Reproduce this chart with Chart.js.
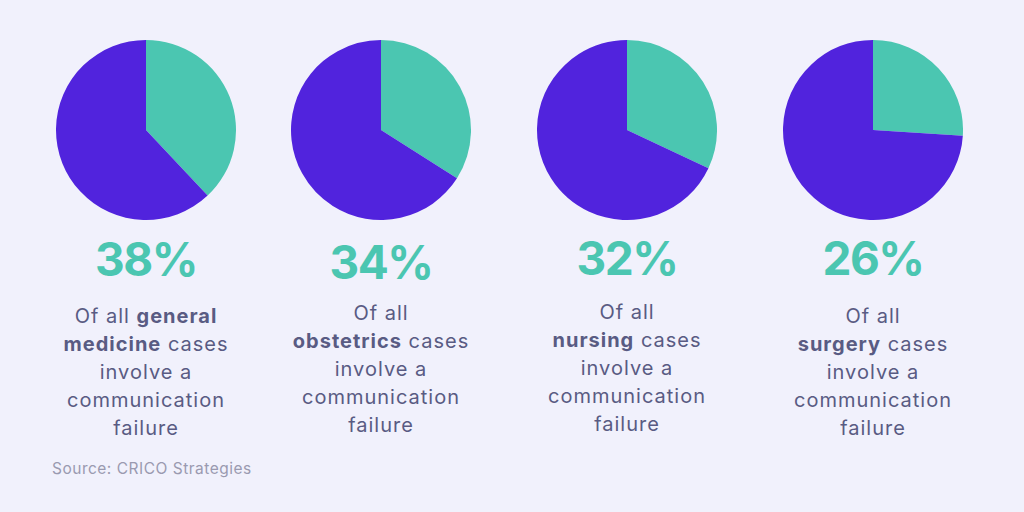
<!DOCTYPE html>
<html>
<head>
<meta charset="utf-8">
<script src="https://cdn.jsdelivr.net/npm/chart.js@4"></script>
<style>
  html, body { margin: 0; padding: 0; }
  body { width: 1024px; height: 512px; background: #f1f1fc; position: relative; overflow: hidden; font-family: Inter, "Open Sans", sans-serif; }
  .pie { position: absolute; top: 40px; width: 180px; height: 180px; }
  .pct { position: absolute; width: 240px; text-align: center; font-weight: 700; font-size: 46px; color: #4bc6b1; line-height: 46px; letter-spacing: -1.5px; }
  .desc { position: absolute; width: 240px; text-align: center; font-size: 20px; line-height: 28px; color: #595b83; letter-spacing: 1px; }
  .desc b { font-weight: 700; }
  .src { position: absolute; left: 52px; top: 459px; font-size: 15.5px; color: #9a9ab0; letter-spacing: 0.5px; }
</style>
</head>
<body>
<script>
const categories = ["general medicine", "obstetrics", "nursing", "surgery"];
const failurePct = [38, 34, 32, 26];
const otherPct = [62, 66, 68, 74];
const sliceLabels = ["Communication failure", "Other"];
const sourceText = "Source: CRICO Strategies";

const centersX = [146, 381, 627, 873];
const pctTops = [236, 239, 235, 235];
const descTops = [302, 299, 298, 302];
const teal = "#4bc6b1", purple = "#5123dd";

categories.forEach((cat, i) => {
  const c = document.createElement("canvas");
  c.className = "pie";
  c.width = 180; c.height = 180;
  c.style.left = (centersX[i] - 90) + "px";
  document.body.appendChild(c);
  new Chart(c, {
    type: "pie",
    data: {
      labels: sliceLabels,
      datasets: [{ data: [failurePct[i], otherPct[i]], backgroundColor: [teal, purple], borderWidth: 0, hoverOffset: 0 }]
    },
    options: {
      responsive: false, animation: false,
      plugins: { legend: { display: false }, tooltip: { enabled: false } },
      layout: { padding: 0 }
    }
  });
  const p = document.createElement("div");
  p.className = "pct";
  p.style.left = (centersX[i] - 120) + "px";
  p.style.top = pctTops[i] + "px";
  p.textContent = failurePct[i] + "%";
  document.body.appendChild(p);
  const d = document.createElement("div");
  d.className = "desc";
  d.style.left = (centersX[i] - 120) + "px";
  d.style.top = descTops[i] + "px";
  const words = cat.split(" ");
  let html;
  if (words.length === 2) {
    html = "Of all <b>" + words[0] + "</b><br><b>" + words[1] + "</b> cases<br>involve a<br>communication<br>failure";
  } else {
    html = "Of all<br><b>" + cat + "</b> cases<br>involve a<br>communication<br>failure";
  }
  d.innerHTML = html;
  document.body.appendChild(d);
});
const s = document.createElement("div");
s.className = "src";
s.textContent = sourceText;
document.body.appendChild(s);
</script>
</body>
</html>
